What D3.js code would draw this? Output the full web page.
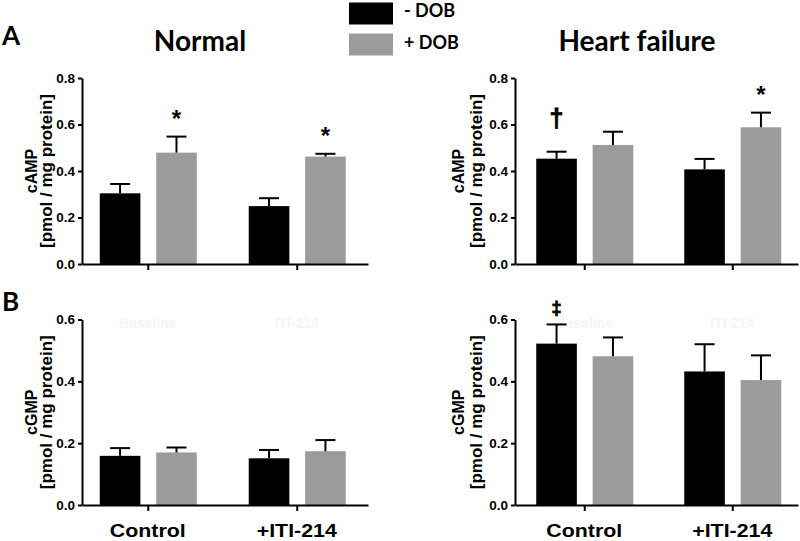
<!DOCTYPE html>
<html>
<head>
<meta charset="utf-8">
<script src="https://cdn.jsdelivr.net/npm/d3@7"></script>
<style>
  html, body { margin: 0; padding: 0; background: #fff; }
  svg { display: block; }
</style>
</head>
<body>
<svg id="chart" width="800" height="541"></svg>
<script>
// ---------------- DATA ----------------
const groups = ["Control", "+ITI-214"];
const series = ["- DOB", "+ DOB"];
// order of values: [Control -DOB, Control +DOB, +ITI-214 -DOB, +ITI-214 +DOB]
const campNormalMean = [0.304, 0.479, 0.249, 0.462];
const campNormalSem  = [0.040, 0.069, 0.034, 0.012];
const campNormalMarks = ["", "*", "", "*"];

const campHFMean = [0.453, 0.512, 0.407, 0.588];
const campHFSem  = [0.030, 0.057, 0.045, 0.063];
const campHFMarks = ["†", "", "", "*"];

const cgmpNormalMean = [0.159, 0.170, 0.151, 0.174];
const cgmpNormalSem  = [0.025, 0.016, 0.027, 0.036];
const cgmpNormalMarks = ["", "", "", ""];

const cgmpHFMean = [0.522, 0.481, 0.432, 0.404];
const cgmpHFSem  = [0.062, 0.061, 0.088, 0.080];
const cgmpHFMarks = ["‡", "", "", ""];

const campTicks = [0, 0.2, 0.4, 0.6, 0.8];
const cgmpTicks = [0, 0.2, 0.4, 0.6];
const panelTitles = ["Normal", "Heart failure"];
const panelLetters = ["A", "B"];
const ghostLabels = ["Baseline", "ITI-214"];

// ---------------- STYLE ----------------
const colors = { "- DOB": "#000000", "+ DOB": "#9b9b9b" };
const ghostColor = "#f5f5f5";
const arialBold = "Arial, 'Liberation Sans', sans-serif";
const titleFont = "Lato, 'Open Sans', sans-serif";
const markGap = { "*": 10, "†": 25, "‡": 10 };
const markSize = { "*": 24, "†": 25, "‡": 18 };

const svg = d3.select("#chart");

const panels = [
  { mean: campNormalMean, sem: campNormalSem, marks: campNormalMarks, ticks: campTicks,
    yMax: 0.8, xr: [82, 368], pad: 0.46, align: 0.48, yr: [264, 78],
    label1: "cAMP", off1: -45, off2: -30, ghost: false, cats: false },
  { mean: campHFMean, sem: campHFSem, marks: campHFMarks, ticks: campTicks,
    yMax: 0.8, xr: [515, 798], pad: 0.456, align: 0.513, yr: [264, 78],
    label1: "cAMP", off1: -51, off2: -33, ghost: false, cats: false },
  { mean: cgmpNormalMean, sem: cgmpNormalSem, marks: cgmpNormalMarks, ticks: cgmpTicks,
    yMax: 0.6, xr: [82, 368], pad: 0.46, align: 0.48, yr: [505, 319.5],
    label1: "cGMP", off1: -45, off2: -30, ghost: true, cats: true },
  { mean: cgmpHFMean, sem: cgmpHFSem, marks: cgmpHFMarks, ticks: cgmpTicks,
    yMax: 0.6, xr: [515, 798], pad: 0.456, align: 0.513, yr: [505, 319.5],
    label1: "cGMP", off1: -51, off2: -33, ghost: true, cats: true }
];

const inner = d3.scaleBand().domain(series).range([-48, 49]).paddingInner(0.28);

panels.forEach(p => {
  const g = svg.append("g");
  const x = d3.scalePoint().domain(groups).range(p.xr).padding(p.pad).align(p.align);
  const y = d3.scaleLinear().domain([0, p.yMax]).range(p.yr);

  const rows = [];
  groups.forEach((grp, gi) => series.forEach((s, si) => {
    const i = gi * 2 + si;
    rows.push({ grp, s, mean: p.mean[i], sem: p.sem[i], mark: p.marks[i] });
  }));

  // ghost labels (very faint)
  if (p.ghost) {
    g.selectAll(".ghost").data(groups).join("text")
      .attr("x", d => x(d))
      .attr("y", p.yr[1] + 8)
      .attr("text-anchor", "middle")
      .attr("font-family", arialBold).attr("font-weight", "bold").attr("font-size", 14)
      .attr("fill", ghostColor)
      .text((d, i) => ghostLabels[i]);
  }

  // bars
  g.selectAll(".bar").data(rows).join("rect")
    .attr("x", d => x(d.grp) + inner(d.s))
    .attr("width", inner.bandwidth())
    .attr("y", d => y(d.mean))
    .attr("height", d => y(0) - y(d.mean))
    .attr("fill", d => colors[d.s]);

  // error bars (upper only)
  const cx = d => x(d.grp) + inner(d.s) + inner.bandwidth() / 2;
  g.selectAll(".err").data(rows).join("line")
    .attr("x1", cx).attr("x2", cx)
    .attr("y1", d => y(d.mean)).attr("y2", d => y(d.mean + d.sem))
    .attr("stroke", "#000").attr("stroke-width", 2);
  g.selectAll(".cap").data(rows).join("line")
    .attr("x1", d => cx(d) - 10).attr("x2", d => cx(d) + 10)
    .attr("y1", d => y(d.mean + d.sem)).attr("y2", d => y(d.mean + d.sem))
    .attr("stroke", "#000").attr("stroke-width", 2);

  // significance marks
  g.selectAll(".mark").data(rows.filter(d => d.mark)).join("text")
    .attr("x", cx)
    .attr("y", d => y(d.mean + d.sem) - markGap[d.mark])
    .attr("text-anchor", "middle")
    .attr("font-family", arialBold).attr("font-weight", "bold")
    .attr("font-size", d => markSize[d.mark])
    .attr("stroke", d => d.mark === "*" ? "none" : "#000")
    .attr("stroke-width", 0.8)
    .text(d => d.mark);

  // y axis
  const yAxis = g.append("g").attr("transform", `translate(${p.xr[0]},0)`)
    .call(d3.axisLeft(y).tickValues(p.ticks).tickFormat(d3.format(".1f"))
      .tickSize(4).tickSizeOuter(0).tickPadding(3));
  yAxis.select(".domain").attr("stroke-width", 2);
  yAxis.selectAll(".tick line").attr("stroke-width", 2);
  yAxis.selectAll(".tick text")
    .attr("font-family", arialBold).attr("font-weight", "bold").attr("font-size", 13.5)
    .attr("fill", "#000");

  // x axis
  const xAxis = g.append("g").attr("transform", `translate(0,${y(0)})`)
    .call(d3.axisBottom(x).tickSize(6).tickSizeOuter(0).tickFormat(""));
  xAxis.select(".domain").attr("stroke-width", 2);
  xAxis.selectAll(".tick line").attr("stroke-width", 2);

  // category labels
  if (p.cats) {
    g.selectAll(".cat").data(groups).join("text")
      .attr("transform", d => `translate(${x(d)},${y(0) + 32}) scale(1.22,1)`)
      .attr("text-anchor", "middle")
      .attr("font-family", arialBold).attr("font-weight", "bold").attr("font-size", 17.5)
      .text(d => d);
  }

  // y-axis title (two lines)
  const ymid = (p.yr[0] + p.yr[1]) / 2;
  g.append("text")
    .attr("transform", `translate(${p.xr[0] + p.off1},${ymid}) rotate(-90)`)
    .attr("text-anchor", "middle")
    .attr("font-family", arialBold).attr("font-weight", "bold").attr("font-size", 16)
    .text(p.label1);
  g.append("text")
    .attr("transform", `translate(${p.xr[0] + p.off2},${ymid}) rotate(-90)`)
    .attr("text-anchor", "middle")
    .attr("font-family", arialBold).attr("font-weight", "bold").attr("font-size", 17)
    .text("[pmol / mg protein]");
});

// panel titles
svg.selectAll(".ptitle").data(panelTitles).join("text")
  .attr("x", (d, i) => [200, 637][i])
  .attr("y", 51)
  .attr("text-anchor", "middle")
  .attr("font-family", titleFont).attr("font-weight", "bold").attr("font-size", 28)
  .text(d => d);

// panel letters
svg.selectAll(".pletter").data(panelLetters).join("text")
  .attr("x", 2)
  .attr("y", (d, i) => [45, 311][i])
  .attr("font-family", titleFont).attr("font-weight", "bold").attr("font-size", 26)
  .text(d => d);

// legend
const leg = svg.append("g");
series.forEach((s, i) => {
  leg.append("rect").attr("x", 349).attr("y", 2.5 + i * 31)
    .attr("width", 44).attr("height", 22).attr("fill", colors[s]);
  leg.append("text").attr("x", 404).attr("y", 17 + i * 31.5)
    .attr("font-family", titleFont).attr("font-weight", "bold").attr("font-size", 18)
    .text(s);
});
</script>
</body>
</html>
